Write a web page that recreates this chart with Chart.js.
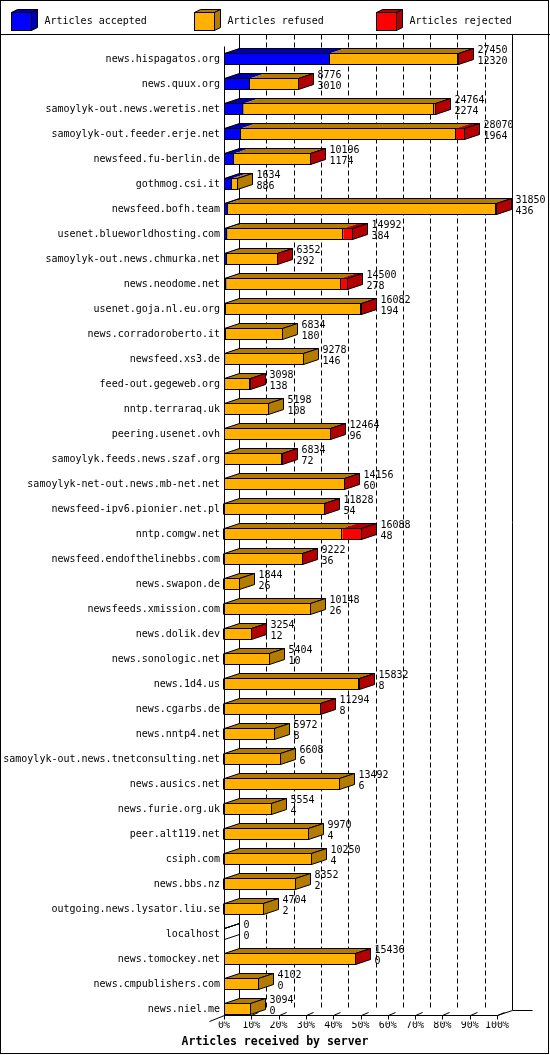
<!DOCTYPE html>
<html>
<head>
<meta charset="utf-8">
<title>Articles received by server</title>
<script src="https://cdn.jsdelivr.net/npm/chart.js@4.4.1/dist/chart.umd.min.js"></script>
<style>
  html, body { margin: 0; padding: 0; background: #fff; }
  canvas { display: block; }
</style>
</head>
<body>
<canvas id="chart" width="550" height="1055"></canvas>
<script>
const servers = [
  'news.hispagatos.org', 'news.quux.org', 'samoylyk-out.news.weretis.net',
  'samoylyk-out.feeder.erje.net', 'newsfeed.fu-berlin.de', 'gothmog.csi.it',
  'newsfeed.bofh.team', 'usenet.blueworldhosting.com', 'samoylyk-out.news.chmurka.net',
  'news.neodome.net', 'usenet.goja.nl.eu.org', 'news.corradoroberto.it',
  'newsfeed.xs3.de', 'feed-out.gegeweb.org', 'nntp.terraraq.uk',
  'peering.usenet.ovh', 'samoylyk.feeds.news.szaf.org', 'samoylyk-net-out.news.mb-net.net',
  'newsfeed-ipv6.pionier.net.pl', 'nntp.comgw.net', 'newsfeed.endofthelinebbs.com',
  'news.swapon.de', 'newsfeeds.xmission.com', 'news.dolik.dev',
  'news.sonologic.net', 'news.1d4.us', 'news.cgarbs.de',
  'news.nntp4.net', 'samoylyk-out.news.tnetconsulting.net', 'news.ausics.net',
  'news.furie.org.uk', 'peer.alt119.net', 'csiph.com',
  'news.bbs.nz', 'outgoing.news.lysator.liu.se', 'localhost',
  'news.tomockey.net', 'news.cmpublishers.com', 'news.niel.me',
];

// articles offered per server (upper number next to each bar)
const offered = [
  27450, 8776, 24764, 28070, 10196, 1634, 31850, 14992, 6352, 14500,
  16082, 6834, 9278, 3098, 5198, 12464, 6834, 14156, 11828, 16088,
  9222, 1844, 10148, 3254, 5404, 15832, 11294, 5972, 6608, 13492,
  5554, 9970, 10250, 8352, 4704, 0, 15436, 4102, 3094,
];

const accepted = [
  12320, 3010, 2274, 1964, 1174, 886, 436, 384, 292, 278,
  194, 180, 146, 138, 108, 96, 72, 60, 54, 48,
  36, 26, 26, 12, 10, 8, 8, 8, 6, 6,
  4, 4, 4, 2, 2, 0, 0, 0, 0,
];

const refused = [
  15030, 5716, 22260, 25056, 8982, 748, 31334, 13518, 6030, 13322,
  15828, 6654, 9132, 2930, 5090, 12338, 6732, 14066, 11744, 13740,
  9156, 1818, 10122, 3222, 5394, 15794, 11256, 5964, 6602, 13486,
  5550, 9966, 10246, 8350, 4702, 0, 15406, 4102, 3094,
];

const rejected = [
  100, 50, 230, 1050, 40, 0, 80, 1090, 30, 900,
  60, 0, 0, 30, 0, 30, 30, 30, 30, 2300,
  30, 0, 0, 20, 0, 30, 30, 0, 0, 0,
  0, 0, 0, 0, 0, 0, 30, 0, 0,
];

const seriesNames = ['Articles accepted', 'Articles refused', 'Articles rejected'];
const percentTicks = [0, 10, 20, 30, 40, 50, 60, 70, 80, 90, 100];
const axisTitle = 'Articles received by server';

const FONT = '"DejaVu Sans Mono", "Liberation Mono", monospace';
const faceColors = ['#0000ff', '#ffb000', '#ff0000'];
const shadeColors = ['#0000b3', '#b37b00', '#b30000'];
const DX = 15;
const DY = 5;
const LEGEND_H = 34;
const maxOffered = Math.max(...offered);

Chart.defaults.font.family = FONT;
Chart.defaults.font.size = 10;
Chart.defaults.color = '#000';

function path(ctx, pts) {
  ctx.beginPath();
  ctx.moveTo(pts[0][0], pts[0][1]);
  for (let i = 1; i < pts.length; i++) ctx.lineTo(pts[i][0], pts[i][1]);
  ctx.closePath();
}

function line(ctx, x0, y0, x1, y1) {
  ctx.beginPath();
  ctx.moveTo(x0, y0);
  ctx.lineTo(x1, y1);
  ctx.stroke();
}

const threeD = {
  id: 'threeD',
  beforeDatasetsDraw(chart) {
    const { ctx, chartArea: area, scales: { x, y } } = chart;
    const floorFront = Math.round(y.getPixelForValue(servers.length - 1)) + 6.5;
    const floorBack = floorFront - DY;
    const wallTop = LEGEND_H + 0.5;
    const back = (v) => Math.round(x.getPixelForValue(v)) + DX + 0.5;
    const front = (v) => Math.round(x.getPixelForValue(v)) + 0.5;

    ctx.save();
    ctx.strokeStyle = '#000';
    ctx.lineWidth = 1;

    // dashed grid on the back wall
    ctx.setLineDash([5, 3]);
    for (const t of x.ticks) {
      if (t.value <= 0 || t.value >= maxOffered) continue;
      line(ctx, back(t.value), wallTop, back(t.value), floorBack);
    }
    ctx.setLineDash([]);

    // back wall edges
    line(ctx, back(0), wallTop, back(0), floorBack);
    line(ctx, back(maxOffered), wallTop, back(maxOffered), floorBack);
    line(ctx, front(0), area.top, front(0), floorFront);

    // floor
    line(ctx, front(0) - DX, floorFront + 6, front(0), floorFront);
    line(ctx, front(0), floorFront, front(maxOffered), floorFront);
    line(ctx, front(maxOffered), floorFront, back(maxOffered), floorBack);
    line(ctx, back(maxOffered), floorBack, back(maxOffered) + 20, floorBack);
    for (const t of x.ticks) {
      const fx = front(t.value);
      line(ctx, fx, floorFront, fx, floorFront + 4);
      line(ctx, fx, floorFront, fx + 7, floorFront - 3);
    }
    ctx.restore();
  },

  afterDatasetsDraw(chart) {
    const { ctx } = chart;
    const metas = chart.data.datasets.map((_, i) => chart.getDatasetMeta(i));

    ctx.save();
    ctx.strokeStyle = '#000';
    ctx.lineWidth = 1;
    ctx.font = '10px ' + FONT;
    ctx.textBaseline = 'middle';
    ctx.textAlign = 'left';

    servers.forEach((name, i) => {
      const bars = metas.map((m) => m.data[i]);
      const cy = bars[0].y;
      const top = Math.round(cy - bars[0].height / 2) + 0.5;
      const bottom = Math.round(cy + bars[0].height / 2) - 0.5;
      const left = Math.round(bars[0].base) + 0.5;
      const end = bars[bars.length - 1].x;
      const right = Math.max(left, Math.round(end) - 0.5);

      // top faces, one per segment
      let last = -1;
      bars.forEach((b, s) => {
        if (b.x - b.base <= 0) return;
        last = s;
        ctx.fillStyle = shadeColors[s];
        path(ctx, [[b.base, top], [b.x, top], [b.x + DX, top - DY], [b.base + DX, top - DY]]);
        ctx.fill();
      });
      path(ctx, [[left, top], [right, top], [right + DX, top - DY], [left + DX, top - DY]]);
      ctx.stroke();

      // right side face
      path(ctx, [[right, top], [right + DX, top - DY], [right + DX, bottom - DY], [right, bottom]]);
      if (last >= 0) {
        ctx.fillStyle = shadeColors[last];
        ctx.fill();
      }
      ctx.stroke();

      // front outline and segment dividers
      if (right > left) {
        ctx.strokeRect(left, top, right - left, bottom - top);
        bars.forEach((b, s) => {
          if (s === 0 || b.x - b.base <= 0) return;
          if (bars.slice(0, s).every((p) => p.x - p.base <= 0)) return;
          const bx = Math.round(b.base) - 0.5;
          line(ctx, bx, top, bx, bottom);
        });
      }

      ctx.fillStyle = '#000';
      ctx.fillText(String(offered[i]), right + DX + 4, cy - 9);
      ctx.fillText(String(accepted[i]), right + DX + 4, cy + 2);
    });
    ctx.restore();
  },

  afterDraw(chart) {
    const { ctx, width, height } = chart;
    ctx.save();
    ctx.strokeStyle = '#000';
    ctx.lineWidth = 1;
    ctx.strokeRect(0.5, 0.5, width - 2, height - 2);
    line(ctx, 0, LEGEND_H + 0.5, width, LEGEND_H + 0.5);

    // legend with 3D boxes
    ctx.font = '10px ' + FONT;
    ctx.textBaseline = 'middle';
    ctx.textAlign = 'left';
    chart.data.datasets.forEach((ds, s) => {
      const bx = Math.round(11 + s * 182.5) + 0.5;
      const by = 12.5;
      const w = 20, h = 18, dx = 6, dy = 3;
      ctx.fillStyle = shadeColors[s];
      path(ctx, [[bx, by], [bx + w, by], [bx + w + dx, by - dy], [bx + dx, by - dy]]);
      ctx.fill(); ctx.stroke();
      path(ctx, [[bx + w, by], [bx + w + dx, by - dy], [bx + w + dx, by + h - dy], [bx + w, by + h]]);
      ctx.fill(); ctx.stroke();
      ctx.fillStyle = faceColors[s];
      ctx.fillRect(bx, by, w, h);
      ctx.strokeRect(bx, by, w, h);
      ctx.fillStyle = '#000';
      ctx.fillText(ds.label, bx + 33, 21);
    });

    ctx.font = 'bold 11.5px ' + FONT;
    ctx.textAlign = 'center';
    ctx.fillText(axisTitle, width / 2, 1042);
    ctx.restore();
  },
};

new Chart(document.getElementById('chart'), {
  type: 'bar',
  data: {
    labels: servers,
    datasets: [
      { label: seriesNames[0], data: accepted, backgroundColor: faceColors[0] },
      { label: seriesNames[1], data: refused, backgroundColor: faceColors[1] },
      { label: seriesNames[2], data: rejected, backgroundColor: faceColors[2] },
    ],
  },
  options: {
    indexAxis: 'y',
    responsive: false,
    devicePixelRatio: 1,
    animation: false,
    events: [],
    layout: { padding: { top: 46.5, right: 53, bottom: 0, left: 0 } },
    datasets: { bar: { barThickness: 12, borderWidth: 0, inflateAmount: 0 } },
    scales: {
      x: {
        stacked: true,
        min: 0,
        max: maxOffered,
        grid: { display: false, drawTicks: false },
        border: { display: false },
        afterFit: (s) => { s.height = 33.5; },
        afterBuildTicks: (s) => {
          s.ticks = percentTicks.map((p) => ({ value: (p / 100) * maxOffered }));
        },
        ticks: {
          autoSkip: false,
          maxRotation: 0,
          padding: -2,
          color: '#000',
          font: { family: FONT, size: 10 },
          callback: (v) => Math.round((v / maxOffered) * 100) + '%',
        },
      },
      y: {
        stacked: true,
        grid: { display: false, drawTicks: false },
        border: { display: false },
        afterFit: (s) => { s.width = 224; },
        ticks: {
          autoSkip: false,
          padding: 4,
          color: '#000',
          font: { family: FONT, size: 10 },
        },
      },
    },
    plugins: {
      legend: { display: false },
      tooltip: { enabled: false },
      title: { display: false },
    },
  },
  plugins: [threeD],
});
</script>
</body>
</html>
